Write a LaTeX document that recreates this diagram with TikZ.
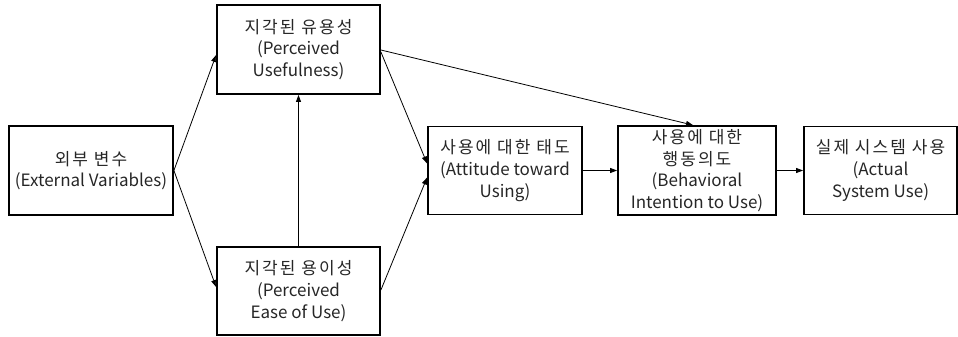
\documentclass[tikz,border=0pt]{standalone}
\usepackage{fontspec}
\setmainfont{Noto Sans CJK KR}
\newfontfamily\krfont[LetterSpace=12]{Noto Sans CJK KR}
\newcommand{\kr}[1]{{\krfont #1}}
\usetikzlibrary{arrows.meta,calc}
\begin{document}
\begin{tikzpicture}[x=1pt,y=-1pt,
  box/.style={draw=black,line width=1.8pt,rectangle,inner sep=0pt,align=center,
    font=\fontsize{17}{21.7}\selectfont,text=black!85},
  arr/.style={line width=0.8pt,-{Triangle[length=7pt,width=5pt]}}]
\useasboundingbox (0,0) rectangle (958,337);
\node[box,minimum width=164pt,minimum height=89pt] (ext) at (91,170.5) {\kr{외부 변수}\\(External Variables)};
\node[box,minimum width=163pt,minimum height=89pt] (pu) at (298.5,49.5) {\kr{지각된 유용성}\\(Perceived\\Usefulness)};
\node[box,minimum width=163pt,minimum height=88pt] (peou) at (298.5,291) {\kr{지각된 용이성}\\(Perceived\\Ease of Use)};
\node[box,minimum width=154pt,minimum height=88pt] (att) at (505,170.5) {\kr{사용에 대한 태도}\\(Attitude toward\\Using)};
\node[box,minimum width=158pt,minimum height=89pt] (bi) at (697,170.5) {\kr{사용에 대한}\\\kr{행동의도}\\(Behavioral\\Intention to Use)};
\node[box,minimum width=153pt,minimum height=88pt] (asu) at (880.5,170.5) {\kr{실제 시스템 사용}\\(Actual\\System Use)};
\draw[arr] (ext.east) -- ($(pu.west)+(0,5.5)$);
\draw[arr] (ext.east) -- ($(peou.west)+(0,-4)$);
\draw[arr] ($(pu.east)+(0,2.5)$) -- ($(att.west)+(0,-7)$);
\draw[arr] ($(pu.east)+(0,0.5)$) -- ($(bi.north)+(-4,0)$);
\draw[arr] ($(peou.east)+(0,-1)$) -- ($(att.west)+(0,7)$);
\draw[arr] (peou.north) -- (pu.south);
\draw[arr] (att.east) -- (bi.west);
\draw[arr] (bi.east) -- (asu.west);
\end{tikzpicture}
\end{document}
